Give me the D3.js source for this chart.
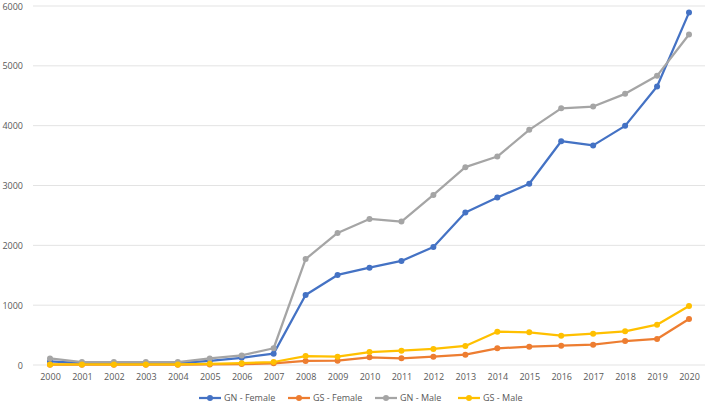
<!DOCTYPE html>
<html>
<head>
<meta charset="utf-8">
<script src="https://cdn.jsdelivr.net/npm/d3@7"></script>
<style>
  body { margin: 0; background: #fff; }
  text { font-family: "Open Sans", "Liberation Sans", sans-serif; fill: #595959; }
</style>
</head>
<body>
<div id="chart"></div>
<script>
// chart data
var years = ['2000','2001','2002','2003','2004','2005','2006','2007','2008','2009','2010',
             '2011','2012','2013','2014','2015','2016','2017','2018','2019','2020'];
var gnFemale = [60, 30, 30, 30, 30, 70, 120, 190, 1170, 1505, 1627, 1739, 1973, 2550, 2798, 3030, 3740, 3670, 3997, 4655, 5890];
var gsFemale = [5, 5, 5, 5, 5, 10, 15, 28, 67, 72, 128, 112, 139, 173, 279, 306, 323, 340, 401, 435, 769];
var gnMale = [110, 50, 50, 50, 50, 110, 160, 280, 1770, 2207, 2441, 2397, 2843, 3306, 3484, 3930, 4290, 4319, 4532, 4833, 5523];
var gsMale = [10, 10, 10, 10, 10, 20, 30, 50, 150, 139, 217, 239, 268, 318, 557, 546, 490, 523, 563, 674, 987];
var yTicks = [0, 1000, 2000, 3000, 4000, 5000, 6000];

var seriesNames = ['GN - Female', 'GS - Female', 'GN - Male', 'GS - Male'];
var seriesColors = ['#4472c4', '#ed7d31', '#a5a5a5', '#ffc000'];
var seriesValues = [gnFemale, gsFemale, gnMale, gsMale];

var width = 709, height = 406;
var svg = d3.select('#chart').append('svg').attr('width', width).attr('height', height);

var x = d3.scalePoint().domain(years).range([50, 689]);
var y = d3.scaleLinear().domain([0, 6000]).range([365, 6]);

// gridlines
svg.append('g').selectAll('line').data(yTicks).enter().append('line')
  .attr('x1', 33).attr('x2', 705)
  .attr('y1', function(d) { return y(d); }).attr('y2', function(d) { return y(d); })
  .style('stroke', '#e3e3e3').style('stroke-width', 1);

// y axis labels
var yAxis = d3.axisLeft(y).tickValues(yTicks).tickFormat(d3.format('d')).tickSize(0).tickPadding(0);
svg.append('g').attr('transform', 'translate(23,0)').call(yAxis)
  .call(function(g) { g.select('.domain').remove(); })
  .selectAll('text').style('font-size', '9px').attr('dy', '0.35em');

// x axis labels
var xAxis = d3.axisBottom(x).tickSize(0).tickPadding(0);
svg.append('g').attr('transform', 'translate(0,377)').call(xAxis)
  .call(function(g) { g.select('.domain').remove(); })
  .selectAll('text').style('font-size', '9px').attr('dy', '0.35em');

var line = d3.line()
  .x(function(d, i) { return x(years[i]); })
  .y(function(d) { return y(d); });

seriesValues.forEach(function(vals, k) {
  var g = svg.append('g');
  g.append('path').datum(vals).attr('d', line)
    .style('fill', 'none').style('stroke', seriesColors[k])
    .style('stroke-width', 2.25).style('stroke-linejoin', 'round');
  g.selectAll('circle').data(vals).enter().append('circle')
    .attr('cx', function(d, i) { return x(years[i]); })
    .attr('cy', function(d) { return y(d); })
    .attr('r', 3)
    .style('fill', seriesColors[k]);
});

// legend
var legendX = [199, 288, 375, 458];
var legend = svg.append('g').attr('transform', 'translate(0,398)');
seriesNames.forEach(function(name, k) {
  var item = legend.append('g').attr('transform', 'translate(' + legendX[k] + ',0)');
  item.append('line').attr('x1', 0).attr('x2', 22).attr('y1', 0).attr('y2', 0)
    .style('stroke', seriesColors[k]).style('stroke-width', 2.25);
  item.append('circle').attr('cx', 11).attr('cy', 0).attr('r', 3).style('fill', seriesColors[k]);
  item.append('text').attr('x', 25).attr('y', 0).attr('dy', '0.35em')
    .style('font-size', '9px').text(name);
});
</script>
</body>
</html>
